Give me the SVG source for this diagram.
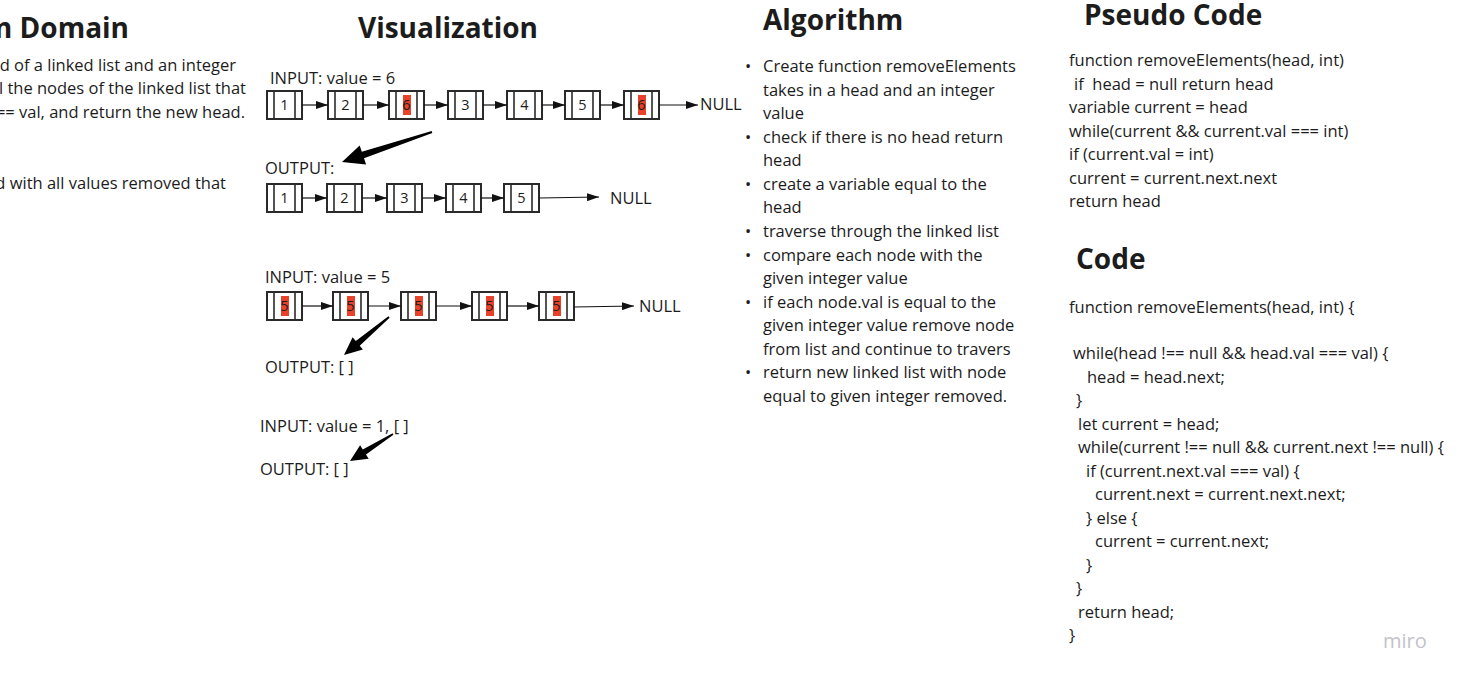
<svg xmlns="http://www.w3.org/2000/svg" width="1464" height="682" viewBox="0 0 1464 682">
<defs>
<style>
text{font-family:"Open Sans","Noto Sans","Liberation Sans",sans-serif;fill:#1c1c1c}
.h{font-size:28px;font-weight:700}
.t{font-size:16.5px}
.num{font-size:14.5px;text-anchor:middle}
.box{fill:#fff;stroke:#2a2a2a;stroke-width:2}
.bar{stroke:#2a2a2a;stroke-width:1.6}
.hl{fill:#e8432a}
.con{stroke:#111;stroke-width:1.2;fill:none;marker-end:url(#ah)}
.big{fill:#000}
.miro{font-size:20px;fill:#c3c3c8;font-weight:400}
</style>
<marker id="ah" markerUnits="userSpaceOnUse" markerWidth="12" markerHeight="8" refX="12" refY="4" orient="auto">
<path d="M0,0 L12,4 L0,8 z" fill="#111"/>
</marker>
</defs>
<rect width="1464" height="682" fill="#fff"/>

<g id="problem-domain">
<text class="h" x="129" y="38" text-anchor="end">Problem Domain</text>
<text class="t" x="236" y="71" text-anchor="end">d of a linked list and an integer</text>
<text class="t" x="246" y="94" text-anchor="end">l the nodes of the linked list that</text>
<text class="t" x="245" y="118" text-anchor="end">== val, and return the new head.</text>
<text class="t" x="226" y="189" text-anchor="end">d with all values removed that</text>
</g>

<g id="visualization-title"><text class="h" x="448" y="38" text-anchor="middle">Visualization</text></g>

<g id="labels">
<text class="t" x="270" y="84">INPUT: value = 6</text>
<text class="t" x="265" y="174">OUTPUT:</text>
<text class="t" x="700" y="110">NULL</text>
<text class="t" x="610" y="204">NULL</text>
<text class="t" x="265" y="283">INPUT: value = 5</text>
<text class="t" x="639" y="312">NULL</text>
<text class="t" x="265" y="373">OUTPUT: [ ]</text>
<text class="t" x="260" y="432">INPUT: value = 1, [ ]</text>
<text class="t" x="260" y="475">OUTPUT: [ ]</text>
</g>

<!-- Row 1 -->
<g id="r1n1" transform="translate(267,91)"><rect class="box" width="35" height="28"/><line class="bar" x1="7" y1="0" x2="7" y2="28"/><line class="bar" x1="28" y1="0" x2="28" y2="28"/><text class="num" x="17.5" y="19">1</text></g>
<g id="r1n2" transform="translate(328,91)"><rect class="box" width="35" height="28"/><line class="bar" x1="7" y1="0" x2="7" y2="28"/><line class="bar" x1="28" y1="0" x2="28" y2="28"/><text class="num" x="17.5" y="19">2</text></g>
<g id="r1n3" transform="translate(389,91)"><rect class="box" width="35" height="28"/><line class="bar" x1="7" y1="0" x2="7" y2="28"/><line class="bar" x1="28" y1="0" x2="28" y2="28"/><rect class="hl" x="14" y="4" width="8" height="20"/><text class="num" x="17.5" y="19">6</text></g>
<g id="r1n4" transform="translate(448,91)"><rect class="box" width="35" height="28"/><line class="bar" x1="7" y1="0" x2="7" y2="28"/><line class="bar" x1="28" y1="0" x2="28" y2="28"/><text class="num" x="17.5" y="19">3</text></g>
<g id="r1n5" transform="translate(507,91)"><rect class="box" width="35" height="28"/><line class="bar" x1="7" y1="0" x2="7" y2="28"/><line class="bar" x1="28" y1="0" x2="28" y2="28"/><text class="num" x="17.5" y="19">4</text></g>
<g id="r1n6" transform="translate(565,91)"><rect class="box" width="35" height="28"/><line class="bar" x1="7" y1="0" x2="7" y2="28"/><line class="bar" x1="28" y1="0" x2="28" y2="28"/><text class="num" x="17.5" y="19">5</text></g>
<g id="r1n7" transform="translate(624,91)"><rect class="box" width="35" height="28"/><line class="bar" x1="7" y1="0" x2="7" y2="28"/><line class="bar" x1="28" y1="0" x2="28" y2="28"/><rect class="hl" x="14" y="4" width="8" height="20"/><text class="num" x="17.5" y="19">6</text></g>

<!-- Row 2 -->
<g id="r2n1" transform="translate(267,184)"><rect class="box" width="35" height="28"/><line class="bar" x1="7" y1="0" x2="7" y2="28"/><line class="bar" x1="28" y1="0" x2="28" y2="28"/><text class="num" x="17.5" y="19">1</text></g>
<g id="r2n2" transform="translate(327,184)"><rect class="box" width="35" height="28"/><line class="bar" x1="7" y1="0" x2="7" y2="28"/><line class="bar" x1="28" y1="0" x2="28" y2="28"/><text class="num" x="17.5" y="19">2</text></g>
<g id="r2n3" transform="translate(387,184)"><rect class="box" width="35" height="28"/><line class="bar" x1="7" y1="0" x2="7" y2="28"/><line class="bar" x1="28" y1="0" x2="28" y2="28"/><text class="num" x="17.5" y="19">3</text></g>
<g id="r2n4" transform="translate(446,184)"><rect class="box" width="35" height="28"/><line class="bar" x1="7" y1="0" x2="7" y2="28"/><line class="bar" x1="28" y1="0" x2="28" y2="28"/><text class="num" x="17.5" y="19">4</text></g>
<g id="r2n5" transform="translate(504,184)"><rect class="box" width="35" height="28"/><line class="bar" x1="7" y1="0" x2="7" y2="28"/><line class="bar" x1="28" y1="0" x2="28" y2="28"/><text class="num" x="17.5" y="19">5</text></g>

<!-- Row 3 -->
<g id="r3n1" transform="translate(267,292)"><rect class="box" width="35" height="28"/><line class="bar" x1="7" y1="0" x2="7" y2="28"/><line class="bar" x1="28" y1="0" x2="28" y2="28"/><rect class="hl" x="14" y="4" width="8" height="20"/><text class="num" x="17.5" y="19">5</text></g>
<g id="r3n2" transform="translate(333,292)"><rect class="box" width="35" height="28"/><line class="bar" x1="7" y1="0" x2="7" y2="28"/><line class="bar" x1="28" y1="0" x2="28" y2="28"/><rect class="hl" x="14" y="4" width="8" height="20"/><text class="num" x="17.5" y="19">5</text></g>
<g id="r3n3" transform="translate(401,292)"><rect class="box" width="35" height="28"/><line class="bar" x1="7" y1="0" x2="7" y2="28"/><line class="bar" x1="28" y1="0" x2="28" y2="28"/><rect class="hl" x="14" y="4" width="8" height="20"/><text class="num" x="17.5" y="19">5</text></g>
<g id="r3n4" transform="translate(472,292)"><rect class="box" width="35" height="28"/><line class="bar" x1="7" y1="0" x2="7" y2="28"/><line class="bar" x1="28" y1="0" x2="28" y2="28"/><rect class="hl" x="14" y="4" width="8" height="20"/><text class="num" x="17.5" y="19">5</text></g>
<g id="r3n5" transform="translate(539,292)"><rect class="box" width="35" height="28"/><line class="bar" x1="7" y1="0" x2="7" y2="28"/><line class="bar" x1="28" y1="0" x2="28" y2="28"/><rect class="hl" x="14" y="4" width="8" height="20"/><text class="num" x="17.5" y="19">5</text></g>

<g id="connectors">
<line class="con" x1="302" y1="105" x2="328" y2="105"/>
<line class="con" x1="363" y1="105" x2="389" y2="105"/>
<line class="con" x1="424" y1="105" x2="448" y2="105"/>
<line class="con" x1="483" y1="105" x2="507" y2="105"/>
<line class="con" x1="542" y1="105" x2="565" y2="105"/>
<line class="con" x1="600" y1="105" x2="624" y2="105"/>
<line class="con" x1="659" y1="105" x2="698" y2="105"/>

<line class="con" x1="302" y1="198" x2="327" y2="198"/>
<line class="con" x1="362" y1="198" x2="387" y2="198"/>
<line class="con" x1="422" y1="198" x2="446" y2="198"/>
<line class="con" x1="481" y1="198" x2="504" y2="198"/>
<line class="con" x1="539" y1="198" x2="599" y2="197"/>

<line class="con" x1="302" y1="306" x2="333" y2="306"/>
<line class="con" x1="368" y1="306" x2="401" y2="306"/>
<line class="con" x1="436" y1="306" x2="472" y2="306"/>
<line class="con" x1="507" y1="306" x2="539" y2="306"/>
<line class="con" x1="574" y1="307" x2="634" y2="306"/>

<path class="big" d="M432.3,132.9 L364,158.3 L366.1,164.5 L342,162 L359.7,145.5 L361.8,151.7 L431.7,131.1 Z"/>
<path class="big" d="M389.6,317.8 L359.7,345.7 L362.9,349.5 L344,355 L352.6,337.3 L355.8,341.1 L388.4,316.2 Z"/>
<path class="big" d="M393.4,434.7 L366,454.5 L368.7,458.7 L350,461 L360.1,445.2 L362.8,449.4 L392.6,433.3 Z"/>
</g>

<g id="algorithm">
<text class="h" x="763" y="30">Algorithm</text>
<text class="t" x="745" y="72">•</text>
<text class="t" x="763" y="72">Create function removeElements</text>
<text class="t" x="763" y="96">takes in a head and an integer</text>
<text class="t" x="763" y="119">value</text>
<text class="t" x="745" y="143">•</text>
<text class="t" x="763" y="143">check if there is no head return</text>
<text class="t" x="763" y="166">head</text>
<text class="t" x="745" y="190">•</text>
<text class="t" x="763" y="190">create a variable equal to the</text>
<text class="t" x="763" y="213">head</text>
<text class="t" x="745" y="237">•</text>
<text class="t" x="763" y="237">traverse through the linked list</text>
<text class="t" x="745" y="261">•</text>
<text class="t" x="763" y="261">compare each node with the</text>
<text class="t" x="763" y="284">given integer value</text>
<text class="t" x="745" y="308">•</text>
<text class="t" x="763" y="308">if each node.val is equal to the</text>
<text class="t" x="763" y="331">given integer value remove node</text>
<text class="t" x="763" y="355">from list and continue to travers</text>
<text class="t" x="745" y="378">•</text>
<text class="t" x="763" y="378">return new linked list with node</text>
<text class="t" x="763" y="402">equal to given integer removed.</text>
</g>

<g id="pseudo-code">
<text class="h" x="1084" y="25">Pseudo Code</text>
<text class="t" x="1069" y="66">function removeElements(head, int)</text>
<text class="t" x="1074" y="90">if&#160; head = null return head</text>
<text class="t" x="1069" y="113">variable current = head</text>
<text class="t" x="1069" y="137">while(current &amp;&amp; current.val === int)</text>
<text class="t" x="1069" y="160">if (current.val = int)</text>
<text class="t" x="1069" y="184">current = current.next.next</text>
<text class="t" x="1069" y="207">return head</text>
</g>

<g id="code">
<text class="h" x="1076" y="269">Code</text>
<text class="t" x="1069" y="313">function removeElements(head, int) {</text>
<text class="t" x="1073" y="359">while(head !== null &amp;&amp; head.val === val) {</text>
<text class="t" x="1087" y="383">head = head.next;</text>
<text class="t" x="1076" y="406">}</text>
<text class="t" x="1078" y="430">let current = head;</text>
<text class="t" x="1078" y="453">while(current !== null &amp;&amp; current.next !== null) {</text>
<text class="t" x="1086" y="477">if (current.next.val === val) {</text>
<text class="t" x="1095" y="500">current.next = current.next.next;</text>
<text class="t" x="1086" y="524">} else {</text>
<text class="t" x="1095" y="547">current = current.next;</text>
<text class="t" x="1086" y="571">}</text>
<text class="t" x="1076" y="594">}</text>
<text class="t" x="1078" y="618">return head;</text>
<text class="t" x="1069" y="641">}</text>
</g>

<g id="logo"><text class="miro" x="1383" y="648">miro</text></g>
</svg>
